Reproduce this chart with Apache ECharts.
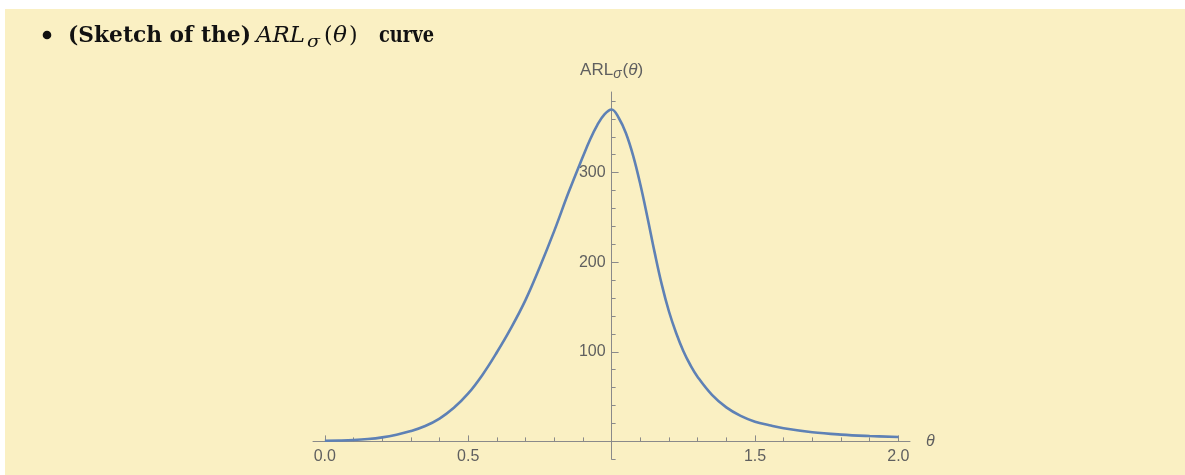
<!DOCTYPE html>
<html>
<head>
<meta charset="utf-8">
<script src="https://cdn.jsdelivr.net/npm/echarts@6/dist/echarts.min.js"></script>
<style>
html,body{margin:0;padding:0;background:#ffffff;}
#chart{position:absolute;left:0;top:0;width:1185px;height:475px;}
</style>
</head>
<body>
<div id="chart"></div>
<script>
// ---- data ----
const theta = [0, 0.05, 0.1, 0.15, 0.2, 0.25, 0.3, 0.35, 0.4, 0.45, 0.5, 0.55, 0.6, 0.65, 0.7, 0.75, 0.8, 0.85, 0.9, 0.925, 0.95, 0.975, 1.0, 1.025, 1.05, 1.075, 1.1, 1.125, 1.15, 1.175, 1.2, 1.225, 1.25, 1.275, 1.3, 1.35, 1.4, 1.45, 1.5, 1.55, 1.6, 1.7, 1.8, 1.9, 2.0];
const arl = [0.8, 1.0, 1.5, 2.6, 4.5, 7.5, 11.6, 17.2, 25.5, 37.5, 53.5, 74.5, 99.5, 127, 158, 195, 235, 278, 318, 337, 353, 365, 370.5, 361, 344, 319, 287, 250, 211, 175, 145, 121, 101, 85, 72, 52, 38, 28.5, 22, 18, 14.6, 10.2, 7.6, 6, 4.9];
const xMajorTicks = [0, 0.5, 1, 1.5, 2];
const xTickLabels = [0, 0.5, 1.5, 2];
const xMinorTicks = [0.1, 0.2, 0.3, 0.4, 0.6, 0.7, 0.8, 0.9, 1.1, 1.2, 1.3, 1.4, 1.6, 1.7, 1.8, 1.9];
const yMajorTicks = [0, 100, 200, 300];
const yTickLabels = [100, 200, 300];
const yMinorTicks = [20, 40, 60, 80, 120, 140, 160, 180, 220, 240, 260, 280, 320, 340, 360, 380];
const yBelowTicks = [-20];

const X_MIN = -0.0413, X_MAX = 2.0405, Y_MIN = -20, Y_MAX = 390;
const GRID_LEFT = 313, GRID_W = 597, GRID_TOP = 92, ZERO_Y = 441.4, BOTTOM_Y = 459.3;
const yAxisOffset = -GRID_W * (1 - X_MIN) / (X_MAX - X_MIN);

const axisColor = '#8a8a8a';
const labelColor = '#5f5f5f';
const sans = '"Liberation Sans", Arial, sans-serif';

// fit a text piece to a target width (layout helper for the heading only)
const mctx = document.createElement('canvas').getContext('2d');
function fitScale(text, font, target) {
  mctx.font = font;
  const w = mctx.measureText(text).width;
  return w > 0 ? target / w : 1;
}
function titleText(text, x, y, font, target) {
  const s = target ? fitScale(text, font, target) : 1;
  return {type: 'text', x: x, y: y, scaleX: s, style: {text: text, font: font, fill: '#111', verticalAlign: 'middle'}};
}
const boldF = 'bold 22px "DejaVu Serif", serif';
const italF = 'italic 22px "DejaVu Serif", serif';
const uprF = '22px "DejaVu Serif", serif';

const chart = echarts.init(document.getElementById('chart'), null, {renderer: 'canvas'});
const option = {
  backgroundColor: 'transparent',
  animation: false,
  graphic: [
    {type: 'rect', z: -10, silent: true, shape: {x: 5, y: 9, width: 1180, height: 466}, style: {fill: '#FAF0C3'}},
    {type: 'circle', shape: {cx: 47, cy: 35, r: 4.3}, style: {fill: '#111'}},
    titleText('(Sketch of the)', 68, 36, boldF, 183),
    titleText('ARL', 256, 36, italF, 49),
    titleText('σ', 307, 43, 'italic 16px "DejaVu Serif", serif', 13),
    titleText('(', 324, 36, uprF, 0),
    titleText('θ', 333, 36, italF, 14),
    titleText(')', 349, 36, uprF, 0),
    titleText('curve', 379, 36, boldF, 55)
  ],
  grid: [
    {left: GRID_LEFT, top: GRID_TOP, width: GRID_W, height: ZERO_Y - GRID_TOP, outerBoundsMode: 'none', containLabel: false},
    {left: GRID_LEFT, top: ZERO_Y, width: GRID_W, height: BOTTOM_Y - ZERO_Y, outerBoundsMode: 'none', containLabel: false}
  ],
  xAxis: [
    {
      gridIndex: 0, type: 'value', min: X_MIN, max: X_MAX, position: 'bottom',
      axisLine: {show: true, onZero: false, lineStyle: {color: axisColor, width: 1}},
      axisTick: {show: true, inside: true, length: 6, customValues: xMajorTicks, lineStyle: {color: axisColor, width: 1}},
      axisLabel: {show: true, customValues: xTickLabels, margin: 7, color: labelColor, fontSize: 16, fontFamily: sans,
        formatter: v => Number(v).toFixed(1)},
      splitLine: {show: false},
      name: 'θ', nameLocation: 'end', nameGap: 16,
      nameTextStyle: {color: labelColor, fontSize: 16, fontStyle: 'italic', fontFamily: sans, verticalAlign: 'middle'}
    },
    {
      gridIndex: 0, type: 'value', min: X_MIN, max: X_MAX, position: 'bottom',
      axisLine: {show: false, onZero: false},
      axisTick: {show: true, inside: true, length: 4, customValues: xMinorTicks, lineStyle: {color: axisColor, width: 1}},
      axisLabel: {show: false},
      splitLine: {show: false}
    },
    {
      gridIndex: 1, type: 'value', min: X_MIN, max: X_MAX, show: false
    }
  ],
  yAxis: [
    {
      gridIndex: 0, type: 'value', min: 0, max: Y_MAX, position: 'left', offset: yAxisOffset,
      axisLine: {show: true, onZero: false, lineStyle: {color: axisColor, width: 1}},
      axisTick: {show: true, inside: true, length: 7, customValues: yMajorTicks, lineStyle: {color: axisColor, width: 1}},
      axisLabel: {show: true, customValues: yTickLabels, margin: 6, color: labelColor, fontSize: 16, fontFamily: sans},
      splitLine: {show: false},
      name: '{a|ARL}{s|σ}{a|(}{i|θ}{a|)}', nameLocation: 'end', nameGap: 11,
      nameTextStyle: {
        color: labelColor,
        rich: {
          a: {fontSize: 17, fontFamily: sans, color: labelColor},
          i: {fontSize: 17, fontFamily: sans, fontStyle: 'italic', color: labelColor},
          s: {fontSize: 14, fontFamily: sans, fontStyle: 'italic', color: labelColor, padding: [8, 1, 0, 0]}
        }
      }
    },
    {
      gridIndex: 0, type: 'value', min: 0, max: Y_MAX, position: 'left', offset: yAxisOffset,
      axisLine: {show: false, onZero: false},
      axisTick: {show: true, inside: true, length: 4, customValues: yMinorTicks, lineStyle: {color: axisColor, width: 1}},
      axisLabel: {show: false},
      splitLine: {show: false}
    },
    {
      gridIndex: 1, type: 'value', min: Y_MIN, max: 0, position: 'left', offset: yAxisOffset,
      axisLine: {show: true, onZero: false, lineStyle: {color: axisColor, width: 1}},
      axisTick: {show: true, inside: true, length: 4, customValues: yBelowTicks, lineStyle: {color: axisColor, width: 1}},
      axisLabel: {show: false},
      splitLine: {show: false}
    }
  ],
  series: [
    {
      type: 'line', xAxisIndex: 0, yAxisIndex: 0,
      data: theta.map((t, i) => [t, arl[i]]),
      showSymbol: false, smooth: 0.4, clip: false,
      lineStyle: {color: '#5E81B5', width: 2.6},
      z: 3
    }
  ]
};
chart.setOption(option);
</script>
</body>
</html>
